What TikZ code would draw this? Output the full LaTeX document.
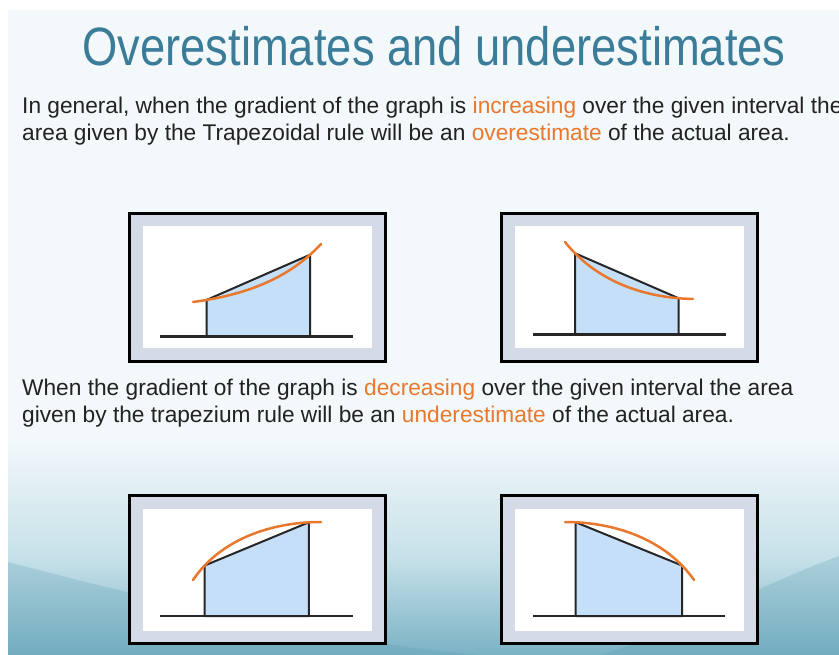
\documentclass[tikz,border=0pt]{standalone}
\usepackage{fontspec}
\setmainfont{Liberation Sans}
\newfontfamily\titlefont[FakeStretch=0.84]{Liberation Sans}
\usepackage{tikz}
\usetikzlibrary{positioning}
\usetikzlibrary{calc}

\definecolor{slidebg}{RGB}{243,248,250}
\definecolor{wavemid}{RGB}{196,224,232}
\definecolor{wavebot}{RGB}{122,178,196}
\definecolor{wavedark}{RGB}{92,156,178}
\definecolor{titleblue}{RGB}{59,125,153}
\definecolor{hilite}{RGB}{233,120,45}
\definecolor{bodytext}{RGB}{34,34,34}
\definecolor{framegray}{RGB}{212,218,230}
\definecolor{areablue}{RGB}{197,223,248}

\newcommand{\hl}[1]{\textcolor{hilite}{#1}}

\tikzset{
    txt/.style={anchor=base west, inner sep=0pt, text=bodytext, font=\fontsize{22.7}{27}\selectfont},
    panel/.style={draw=black, line width=3pt, fill=framegray, minimum width=256pt, minimum height=148pt, inner sep=0pt},
    plotarea/.style={fill=white, minimum width=229pt, minimum height=122pt, inner sep=0pt},
    axis/.style={draw=black!85, line width=2.5pt},
    trap/.style={fill=areablue, draw=black!85, line width=2pt, line join=round},
    graph/.style={draw=hilite, line width=2.5pt, line cap=round},
}

\begin{document}
\begin{tikzpicture}[x=1pt, y=-1pt]
    \clip (0,0) rectangle (839,655);

    % slide background
    \fill[white] (0,0) rectangle (839,655);
    \fill[slidebg] (8,10) rectangle (839,655);
    \shade[top color=slidebg, bottom color=wavemid] (8,440) rectangle (839,561);
    \shade[top color=wavemid, bottom color=wavebot] (8,560) rectangle (839,655);
    \fill[wavedark, opacity=0.25] (8,562) .. controls (150,600) and (350,645) .. (480,655) -- (8,655) -- cycle;
    \fill[wavedark, opacity=0.25] (839,556) .. controls (760,585) and (680,630) .. (600,655) -- (839,655) -- cycle;

    % texts
    \node[anchor=base, inner sep=0pt, text=titleblue, font=\titlefont\fontsize{54}{60}\selectfont] (title) at (434,66) {Overestimates and underestimates};

    \node[txt] (over1) at (22,113.5) {In general, when the gradient of the graph is \hl{increasing} over the given interval the};
    \node[txt] (over2) at ([yshift=-27.5pt]over1.base west) {area given by the Trapezoidal rule will be an \hl{overestimate} of the actual area.};

    \node[txt] (under1) at (22,395.5) {When the gradient of the graph is \hl{decreasing} over the given interval the area};
    \node[txt] (under2) at ([yshift=-27pt]under1.base west) {given by the trapezium rule will be an \hl{underestimate} of the actual area.};

    % increasing, convex
    \node[panel] (incfr) at (257.5,287.5) {};
    \node[plotarea] (incbox) at (incfr) {};
    \coordinate (incL) at (160,336.5);
    \coordinate (incR) at (353,336.5);
    \path (193,302) .. controls (238,296) and (286,282) .. (321,244)
        coordinate[pos=0.1] (inca) coordinate[pos=0.9] (incb);
    \draw[trap] (inca) -- (incb) -- (incb |- incL) -- (inca |- incL) -- cycle;
    \draw[axis] (incL) -- (incR);
    \draw[graph] (193,302) .. controls (238,296) and (286,282) .. (321,244);

    % decreasing, convex
    \node[panel] (decfr) at (629.5,287.5) {};
    \node[plotarea] (decbox) at (decfr) {};
    \coordinate (decL) at (533,334.5);
    \coordinate (decR) at (726,334.5);
    \path (565,242) .. controls (597,282) and (645,298) .. (693,299)
        coordinate[pos=0.1] (deca) coordinate[pos=0.9] (decb);
    \draw[trap] (deca) -- (decb) -- (decb |- decL) -- (deca |- decL) -- cycle;
    \draw[axis] (decL) -- (decR);
    \draw[graph] (565,242) .. controls (597,282) and (645,298) .. (693,299);

    % increasing, concave
    \node[panel] (capfr) at (257.5,569.5) {};
    \node[plotarea] (capbox) at (capfr) {};
    \coordinate (capL) at (160,616);
    \coordinate (capR) at (353,616);
    \path (193,580) .. controls (220,540) and (270,522) .. (321,522)
        coordinate[pos=0.13] (capa) coordinate[pos=0.92] (capb);
    \draw[trap] (capa) -- (capb) -- (capb |- capL) -- (capa |- capL) -- cycle;
    \draw[axis] (capL) -- (capR);
    \draw[graph] (193,580) .. controls (220,540) and (270,522) .. (321,522);

    % decreasing, concave
    \node[panel] (dropfr) at (629.5,569.5) {};
    \node[plotarea] (dropbox) at (dropfr) {};
    \coordinate (dropL) at (533,616);
    \coordinate (dropR) at (725,616);
    \path (565,522) .. controls (616,522) and (666,540) .. (694,580)
        coordinate[pos=0.07] (dropa) coordinate[pos=0.87] (dropb);
    \draw[trap] (dropa) -- (dropb) -- (dropb |- dropL) -- (dropa |- dropL) -- cycle;
    \draw[axis] (dropL) -- (dropR);
    \draw[graph] (565,522) .. controls (616,522) and (666,540) .. (694,580);
\end{tikzpicture}
\end{document}
